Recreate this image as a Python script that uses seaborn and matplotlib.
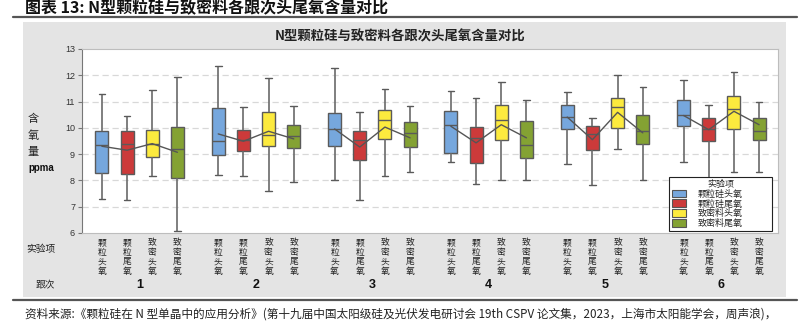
import numpy as np
import pandas as pd
import matplotlib
matplotlib.use("Agg")
import matplotlib.pyplot as plt
from matplotlib.patches import Rectangle, Patch
from matplotlib.lines import Line2D
import seaborn as sns

# ---------------- data ----------------
groups = ['1', '2', '3', '4', '5', '6']
items = ['颗粒硅头氧', '颗粒硅尾氧', '致密料头氧', '致密料尾氧']
tick_labels = ['颗粒头氧', '颗粒尾氧', '致密头氧', '致密尾氧']
colors = ['#76A7DD', '#CC3A3A', '#FCEA3E', '#84A233']

# 颗粒硅头氧
blue_whislo = [7.30, 8.22, 8.00, 8.69, 8.64, 8.69]
blue_q1     = [8.29, 8.98, 9.32, 9.06, 9.96, 10.08]
blue_med    = [9.35, 9.49, 9.96, 10.11, 10.41, 10.49]
blue_q3     = [9.89, 10.76, 10.57, 10.65, 10.86, 11.05]
blue_whishi = [11.30, 12.34, 12.27, 11.39, 11.36, 11.83]
blue_mean   = [9.30, 9.77, 9.96, 10.06, 10.41, 10.47]

# 颗粒硅尾氧
red_whislo = [7.27, 8.16, 7.27, 7.87, 7.82, 7.95]
red_q1     = [8.25, 9.13, 8.77, 8.65, 9.17, 9.49]
red_med    = [9.39, 9.53, 9.55, 9.60, 9.78, 9.96]
red_q3     = [9.89, 9.93, 9.87, 10.02, 10.06, 10.38]
red_whishi = [10.44, 10.78, 10.59, 11.14, 10.39, 10.87]
red_mean   = [9.15, 9.49, 9.27, 9.43, 9.55, 9.93]

# 致密料头氧
yel_whislo = [8.16, 7.59, 8.16, 8.03, 9.20, 8.32]
yel_q1     = [8.89, 9.32, 9.58, 9.53, 10.00, 9.96]
yel_med    = [9.39, 9.72, 10.31, 10.31, 10.78, 10.73]
yel_q3     = [9.93, 10.60, 10.69, 10.88, 11.14, 11.20]
yel_whishi = [11.45, 11.90, 11.47, 11.73, 12.01, 12.14]
yel_mean   = [9.40, 9.87, 10.03, 10.12, 10.59, 10.63]

# 致密料尾氧
grn_whislo = [6.07, 7.94, 8.32, 8.00, 8.00, 8.32]
grn_q1     = [8.10, 9.22, 9.27, 8.87, 9.39, 9.53]
grn_med    = [9.21, 9.68, 9.79, 9.35, 9.89, 9.89]
grn_q3     = [10.03, 10.11, 10.22, 10.27, 10.49, 10.38]
grn_whishi = [11.92, 10.82, 10.82, 11.07, 11.56, 11.00]
grn_mean   = [9.07, 9.58, 9.62, 9.62, 9.81, 10.12]

stats = [
    (blue_whislo, blue_q1, blue_med, blue_q3, blue_whishi, blue_mean),
    (red_whislo, red_q1, red_med, red_q3, red_whishi, red_mean),
    (yel_whislo, yel_q1, yel_med, yel_q3, yel_whishi, yel_mean),
    (grn_whislo, grn_q1, grn_med, grn_q3, grn_whishi, grn_mean),
]

# ---------------- layout helpers ----------------
GROUP_STEP = 4.62

rows, mrows = [], []
for h, (lo, q1, md, q3, hi, mn) in enumerate(stats):
    for g, grp in enumerate(groups):
        pos = g * GROUP_STEP + h
        for v in (lo[g], q1[g], md[g], q3[g], hi[g]):
            rows.append({'pos': pos, 'val': v, 'item': items[h], 'group': grp})
        mrows.append({'pos': pos, 'mean': mn[g], 'group': grp, 'h': h})
df = pd.DataFrame(rows)
mdf = pd.DataFrame(mrows).sort_values(['group', 'h'])

sns.set_style('white')
plt.rcParams['font.family'] = ['Noto Sans CJK SC', 'DejaVu Sans']

W, H = 801, 328
fig = plt.figure(figsize=(W / 100, H / 100), dpi=100)

def fx(px):
    return px / W

def fy(py):
    return 1 - py / H

# gray panel
fig.add_artist(Rectangle((fx(23), fy(297)), fx(786) - fx(23), fy(22) - fy(297),
                         transform=fig.transFigure, facecolor='#e4e4e4',
                         edgecolor='none', zorder=0))
# rules
fig.add_artist(Line2D([fx(13), fx(797)], [fy(17), fy(17)], transform=fig.transFigure,
                      color='#555555', lw=1.6))
fig.add_artist(Line2D([fx(13), fx(797)], [fy(300), fy(300)], transform=fig.transFigure,
                      color='#555555', lw=1.6))

ax_l, ax_r, ax_t, ax_b = 82, 778, 49, 233
ax = fig.add_axes([fx(ax_l), fy(ax_b), fx(ax_r) - fx(ax_l), fy(ax_t) - fy(ax_b)])
ax.set_facecolor('white')

sns.boxplot(data=df, x='pos', y='val', hue='item', hue_order=items,
            palette=colors, native_scale=True, dodge=False, width=0.52,
            whis=(0, 100), linecolor='#5a5a5a', linewidth=1.0, fliersize=0,
            saturation=1, legend=False, ax=ax, zorder=3,
            whiskerprops={'color': '#6a6a6a', 'linewidth': 1.2})

sns.lineplot(data=mdf, x='pos', y='mean', units='group', estimator=None,
             sort=False, color='#555555', linewidth=1.0, ax=ax, zorder=4)

first = 0
last = (len(groups) - 1) * GROUP_STEP + 3
ax.set_xlim(first - 0.79, last + 0.75)
ax.set_ylim(6, 13)
ax.set_yticks(range(6, 14))
ax.set_yticklabels([str(v) for v in range(6, 14)], fontsize=6.5, color='#333333',
                   family=['Liberation Sans', 'DejaVu Sans'])
for yv in range(7, 13):
    ax.axhline(yv, color='#d8d8d8', lw=0.9, ls=(0, (5, 3)), zorder=1)

positions = [g * GROUP_STEP + h for g in range(len(groups)) for h in range(4)]
ax.set_xticks(positions)
ax.set_xticklabels(['\n'.join(tick_labels[h]) for g in range(len(groups)) for h in range(4)],
                   fontsize=6.3, linespacing=1.05, color='#222222')
ax.tick_params(axis='x', length=0, pad=4)
ax.tick_params(axis='y', length=3, width=0.8, color='#777777', pad=2, left=True)
ax.set_xlabel('')
ax.set_ylabel('')
for s in ['top', 'right', 'bottom']:
    ax.spines[s].set_color('#bdbdbd')
    ax.spines[s].set_linewidth(0.8)
ax.spines['left'].set_color('#777777')
ax.spines['left'].set_linewidth(0.8)

# group numbers
for g, grp in enumerate(groups):
    ax.annotate(grp, xy=(g * GROUP_STEP + 1.5, fy(285)), xycoords=('data', 'figure fraction'),
                ha='center', va='center', fontsize=9, fontweight='bold',
                family=['Liberation Sans', 'DejaVu Sans'], color='#111111')

# row labels
fig.text(fx(41), fy(249), '实验项', ha='center', va='center', fontsize=7, color='#222222')
fig.text(fx(45), fy(285), '跟次', ha='center', va='center', fontsize=7, color='#222222')

# y label
for txt, py in [('含', 119), ('氧', 136), ('量', 152)]:
    fig.text(fx(33), fy(py), txt, ha='center', va='center', fontsize=8, color='#222222')
fig.text(fx(41), fy(168), 'ppma', ha='center', va='center', fontsize=7, fontweight='bold',
         family=['Liberation Sans', 'DejaVu Sans'], color='#111111')

# titles
fig.text(fx(25), fy(8.5), '图表 13: N型颗粒硅与致密料各跟次头尾氧含量对比', ha='left', va='center',
         fontsize=11.5, fontweight='bold', color='#111111')
fig.text(fx(400), fy(36), 'N型颗粒硅与致密料各跟次头尾氧含量对比', ha='center', va='center',
         fontsize=9.6, fontweight='bold', color='#222222')
fig.text(fx(25), fy(314),
         '资料来源:《颗粒硅在 N 型单晶中的应用分析》(第十九届中国太阳级硅及光伏发电研讨会 19th CSPV 论文集，2023，上海市太阳能学会，周声浪)，',
         ha='left', va='center', fontsize=8.4, color='#222222')

# legend
handles = [Patch(facecolor=c, edgecolor='#555555', linewidth=0.8) for c in colors]
lx0 = (669 - ax_l) / (ax_r - ax_l)
lx1 = (772 - ax_l) / (ax_r - ax_l)
ly1 = (ax_b - 177) / (ax_b - ax_t)
ly0 = (ax_b - 230) / (ax_b - ax_t)
leg = ax.legend(handles, items, title='实验项', loc='upper left',
                bbox_to_anchor=(lx0, ly0, lx1 - lx0, ly1 - ly0), mode='expand',
                fontsize=6.5, title_fontsize=6.5, frameon=True, fancybox=False,
                edgecolor='#222222', framealpha=1, handlelength=1.6, handleheight=0.95,
                labelspacing=0.08, borderpad=0.3, handletextpad=1.3, borderaxespad=0)
leg.get_frame().set_linewidth(0.8)
leg.set_zorder(10)

fig.savefig('out.png', dpi=100)
